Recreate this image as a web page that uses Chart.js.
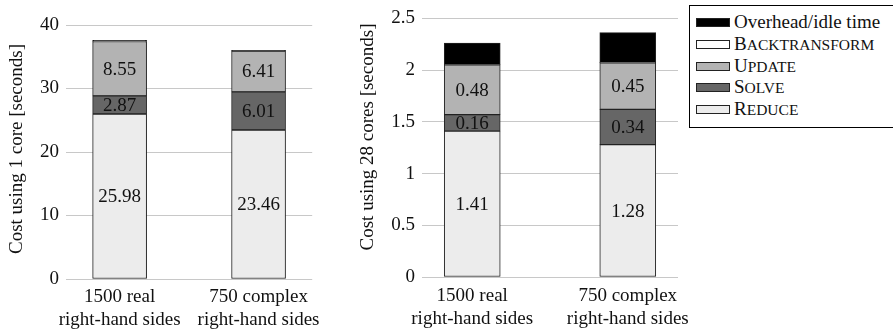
<!DOCTYPE html>
<html>
<head>
<meta charset="utf-8">
<script src="https://cdn.jsdelivr.net/npm/chart.js@4/dist/chart.umd.min.js"></script>
<style>
  html, body { margin: 0; padding: 0; background: #fff; }
  #wrap { position: relative; width: 893px; height: 329px; overflow: hidden; }
  #c1 { position: absolute; left: 0; top: 0; }
  #c2 { position: absolute; left: 330px; top: 0; }
  #legend { position: absolute; left: 689px; top: 5px; width: 220px; height: 123px;
            border: 1px solid #000; background: #fff; box-sizing: border-box;
            font-family: "Liberation Serif", "DejaVu Serif", "Noto Serif", serif; font-size: 19px; color: #111; }
  .item { position: absolute; left: 6px; height: 22px; line-height: 22px; white-space: nowrap; }
  .sw { position: absolute; left: 0; top: 7px; width: 34px; height: 9px; border: 1px solid #222; box-sizing: border-box; }
  .lt { position: absolute; left: 38px; top: 0; }
  .rest { text-transform: uppercase; font-size: 15.5px; }
</style>
</head>
<body>
<div id="wrap">
  <canvas id="c1" width="330" height="329"></canvas>
  <canvas id="c2" width="563" height="329"></canvas>
  <div id="legend"></div>
</div>
<script>
// ---- data ----
const categories = [["1500 real", "right-hand sides"], ["750 complex", "right-hand sides"]];
const seriesNames = ["Reduce", "Solve", "Update", "Backtransform", "Overhead/idle time"];
const seriesColors = ["#ececec", "#666666", "#b3b3b3", "#ffffff", "#000000"];
// Cost using 1 core [seconds]
const reduce1 = [25.98, 23.46];
const solve1 = [2.87, 6.01];
const update1 = [8.55, 6.41];
const backtransform1 = [0.05, 0.04];
const overhead1 = [0.12, 0.08];
// Cost using 28 cores [seconds]
const reduce28 = [1.41, 1.28];
const solve28 = [0.16, 0.34];
const update28 = [0.48, 0.45];
const backtransform28 = [0.002, 0.002];
const overhead28 = [0.21, 0.29];
const ticks1 = [0, 10, 20, 30, 40];
const ticks28 = [0, 0.5, 1, 1.5, 2, 2.5];

const FONT = '"Liberation Serif", "DejaVu Serif", "Noto Serif", serif';
const labelled = [0, 1, 2]; // series whose values are printed

const valueLabels = {
  id: 'valueLabels',
  afterDatasetsDraw(chart) {
    const ctx = chart.ctx;
    ctx.save();
    ctx.font = `19px ${FONT}`;
    ctx.fillStyle = '#111';
    ctx.textAlign = 'center';
    ctx.textBaseline = 'middle';
    labelled.forEach(i => {
      const meta = chart.getDatasetMeta(i);
      meta.data.forEach((el, j) => {
        const v = chart.data.datasets[i].data[j].y;
        ctx.fillText(v.toFixed(2), el.x, (el.y + el.base) / 2 + 1);
      });
    });
    // y axis title
    const t = chart.options.plugins.yTitle;
    ctx.translate(t.x, t.y);
    ctx.rotate(-Math.PI / 2);
    ctx.fillText(t.text, 0, 0);
    ctx.restore();
  }
};

function makeChart(id, series, yTicks, yTitle, opts) {
  const datasets = series.map((vals, i) => ({
    label: seriesNames[i],
    data: vals.map((v, j) => ({ x: j, y: v })),
    backgroundColor: seriesColors[i],
    borderColor: '#222',
    borderWidth: 1,
    borderSkipped: false,
    barThickness: opts.barW
  }));
  return new Chart(document.getElementById(id), {
    type: 'bar',
    data: { datasets },
    plugins: [valueLabels],
    options: {
      responsive: false,
      animation: false,
      events: [],
      layout: { padding: { left: opts.padL, right: opts.padR, top: opts.top, bottom: 0 } },
      plugins: { legend: { display: false }, tooltip: { enabled: false },
                 yTitle: { text: yTitle, x: opts.tX, y: opts.tY } },
      scales: {
        x: {
          type: 'linear', stacked: true, offset: false,
          min: -opts.m, max: 1 + opts.m,
          afterBuildTicks: s => { s.ticks = categories.map((c, j) => ({ value: j })); },
          afterFit: s => { s.height = 329 - opts.bottom; },
          ticks: {
            callback: v => categories[v], autoSkip: false, maxRotation: 0,
            padding: opts.xPad, color: '#111', font: { family: FONT, size: 19, lineHeight: 1.2 }
          },
          grid: { display: false, drawTicks: false },
          border: { display: false }
        },
        y: {
          stacked: true, min: yTicks[0], max: yTicks[yTicks.length - 1],
          afterBuildTicks: s => { s.ticks = yTicks.map(v => ({ value: v })); },
          afterFit: s => { s.width = opts.yW; },
          ticks: { padding: 7, color: '#111', font: { family: FONT, size: 19 }, callback: v => String(v) },
          grid: { color: '#c8c8c8', lineWidth: 1, drawTicks: false },
          border: { display: false }
        }
      }
    }
  });
}

makeChart('c1', [reduce1, solve1, update1, backtransform1, overhead1], ticks1,
  'Cost using 1 core [seconds]',
  { barW: 54, padL: 0, padR: 16, top: 25, bottom: 279, yW: 66, m: 0.386, xPad: 7, tX: 17, tY: 149 });
makeChart('c2', [reduce28, solve28, update28, backtransform28, overhead28], ticks28,
  'Cost using 28 cores [seconds]',
  { barW: 56, padL: 0, padR: 215, top: 16, bottom: 277, yW: 92, m: 0.323, xPad: 8, tX: 38, tY: 137 });

// legend (reverse order of stacking)
const legend = document.getElementById('legend');
const order = [4, 3, 2, 1, 0];
order.forEach((i, k) => {
  const d = document.createElement('div');
  d.className = 'item';
  d.style.top = (5 + k * 21.8) + 'px';
  const sw = document.createElement('span');
  sw.className = 'sw';
  sw.style.background = seriesColors[i];
  const t = document.createElement('span');
  t.className = 'lt';
  const name = seriesNames[i];
  if (i === 4) {
    t.textContent = name;
  } else {
    t.appendChild(document.createTextNode(name[0]));
    const r = document.createElement('span');
    r.className = 'rest';
    r.textContent = name.slice(1);
    t.appendChild(r);
  }
  d.appendChild(sw); d.appendChild(t);
  legend.appendChild(d);
});
</script>
</body>
</html>
